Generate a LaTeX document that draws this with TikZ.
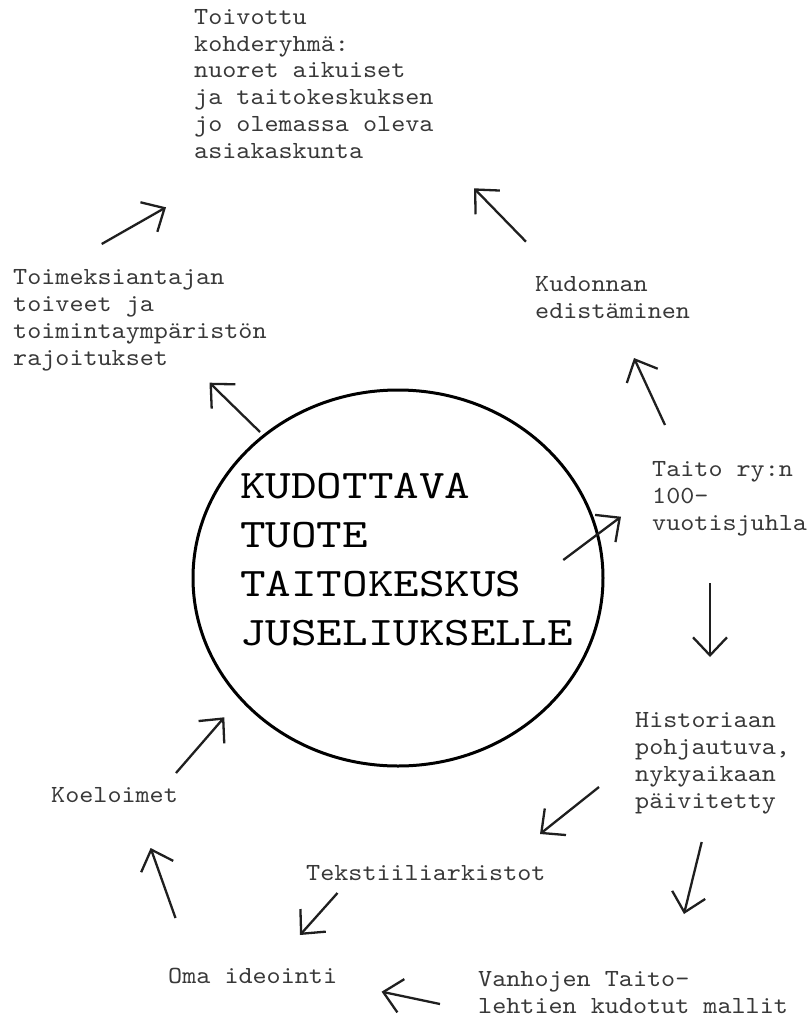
\documentclass[tikz,border=0pt]{standalone}
\usepackage{fontspec}
\newfontfamily\smallcour{lmmono10-regular.otf}[FakeStretch=1.09]
\newfontfamily\bigcour{lmmono10-regular.otf}[FakeStretch=1.2]
\usetikzlibrary{arrows.meta,shapes.geometric}
\tikzset{
  lbl/.style={anchor=base west, inner sep=0pt, align=left, text=black!78,
    font=\smallcour\fontsize{24.6}{26.7}\selectfont},
  ttl/.style={anchor=base west, inner sep=0pt, align=left, text=black,
    font=\bigcour\fontsize{40.6}{49}\selectfont},
  arr/.style={line width=2.3pt, draw=black!88,
    -{Straight Barb[length=18pt,width=34pt]}},
  hubstyle/.style={draw=black, line width=3pt, ellipse, minimum width=410pt,
    minimum height=376pt, inner sep=0pt}
}
\begin{document}
\begin{tikzpicture}[x=1pt,y=-1pt]
\useasboundingbox[fill=white] (0,0) rectangle (810,1021);
% central circle and title (anchors at the baseline of the last line)
\node[hubstyle] (hub) at (398,578) {};
\node[ttl] (title) at (240,645) {KUDOTTAVA\\TUOTE\\TAITOKESKUS\\JUSELIUKSELLE};
% labels
\node[lbl] (target) at (194,158) {Toivottu\\kohderyhmä:\\nuoret aikuiset\\ja taitokeskuksen\\jo olemassa oleva\\asiakaskunta};
\node[lbl] (client) at (13,365) {Toimeksiantajan\\toiveet ja\\toimintaympäristön\\rajoitukset};
\node[lbl] (kudonta) at (535,318) {Kudonnan\\edistäminen};
\node[lbl] (taito) at (652,530) {Taito ry:n\\100-\\vuotisjuhla};
\node[lbl] (hist) at (635,808) {Historiaan\\pohjautuva,\\nykyaikaan\\päivitetty};
\node[lbl] (koe) at (51,802) {Koeloimet};
\node[lbl] (arkisto) at (306,880) {Tekstiiliarkistot};
\node[lbl] (oma) at (168,983) {Oma ideointi};
\node[lbl] (vanhat) at (478,1013) {Vanhojen Taito-\\lehtien kudotut mallit};
% arrow end points
\coordinate (a1s) at (101.7,244);  \coordinate (a1e) at (166,207.3);
\coordinate (a2s) at (526,241.7);  \coordinate (a2e) at (474,188.3);
\coordinate (a3s) at (260,432);    \coordinate (a3e) at (209.5,382.7);
\coordinate (a4s) at (665,425);    \coordinate (a4e) at (634,358);
\coordinate (a5s) at (563.3,560);  \coordinate (a5e) at (621,516.7);
\coordinate (a6s) at (710,583);    \coordinate (a6e) at (710,657);
\coordinate (a7s) at (599,787);    \coordinate (a7e) at (540,834);
\coordinate (a8s) at (701.7,842);  \coordinate (a8e) at (684,914);
\coordinate (a9s) at (337.5,893);  \coordinate (a9e) at (300,935);
\coordinate (a10s) at (440,1004);  \coordinate (a10e) at (381.6,991.7);
\coordinate (a11s) at (175.5,918); \coordinate (a11e) at (150.6,848);
\coordinate (a12s) at (176,773);   \coordinate (a12e) at (224.3,717.3);
% arrows
\draw[arr] (a1s) -- (a1e);
\draw[arr] (a2s) -- (a2e);
\draw[arr] (a3s) -- (a3e);
\draw[arr] (a4s) -- (a4e);
\draw[arr] (a5s) -- (a5e);
\draw[arr] (a6s) -- (a6e);
\draw[arr] (a7s) -- (a7e);
\draw[arr] (a8s) -- (a8e);
\draw[arr] (a9s) -- (a9e);
\draw[arr] (a10s) -- (a10e);
\draw[arr] (a11s) -- (a11e);
\draw[arr] (a12s) -- (a12e);
\end{tikzpicture}
\end{document}
